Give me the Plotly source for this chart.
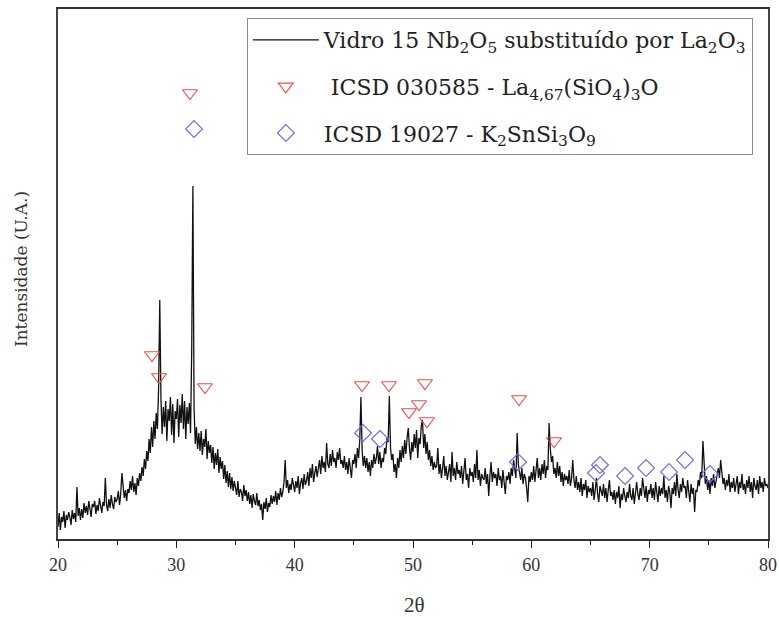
import plotly.graph_objects as go

# ---------------- data ----------------
two_theta_start = 20.0
two_theta_step = 0.1

intensity = [
    12, 26, 9, 22, 17, 28, 11, 24, 19, 27,
    22, 14, 29, 20, 26, 17, 52, 23, 31, 19,
    30, 21, 36, 26, 33, 24, 38, 28, 22, 35,
    32, 38, 25, 34, 28, 41, 31, 26, 37, 33,
    61, 34, 28, 40, 31, 44, 35, 30, 42, 37,
    40, 48, 34, 45, 66, 52, 41, 49, 38, 50,
    46, 58, 49, 63, 47, 56, 44, 61, 53, 66,
    58, 72, 63, 80, 70, 88, 78, 100, 86, 112,
    92, 118, 100, 126, 110, 150, 239, 140, 105, 132,
    112, 138, 98, 130, 118, 142, 104, 135, 96, 128,
    120, 140, 102, 134, 116, 145, 110, 138, 100, 132,
    115, 136, 106, 190, 353, 130, 95, 112, 90, 106,
    88, 108, 84, 100, 92, 110, 80, 98, 86, 94,
    76, 92, 70, 86, 74, 90, 66, 82, 70, 78,
    60, 74, 56, 68, 52, 66, 50, 62, 48, 58,
    52, 44, 58, 42, 50, 47, 38, 54, 43, 49,
    38, 47, 35, 44, 31, 45, 38, 34, 46, 33,
    39, 29, 35, 19, 37, 30, 41, 27, 36, 32,
    44, 35, 43, 37, 48, 34, 46, 39, 51, 42,
    47, 57, 79, 51, 59, 46, 55, 49, 61, 53,
    47, 58, 51, 63, 45, 56, 61, 50, 65, 54,
    58, 67, 53, 71, 61, 75, 57, 66, 73, 62,
    69, 79, 65, 83, 71, 77, 67, 96, 75, 71,
    85, 73, 89, 77, 81, 71, 87, 79, 91, 75,
    79, 71, 83, 69, 77, 65, 81, 73, 61, 79,
    75, 85, 71, 91, 81, 99, 142, 89, 73, 83,
    71, 81, 67, 77, 63, 79, 71, 85, 75, 81,
    93, 75, 87, 71, 81, 77, 91, 85, 101, 97,
    143, 91, 79, 85, 67, 75, 61, 81, 71, 89,
    77, 93, 81, 99, 85, 101, 111, 91, 79, 97,
    87, 105, 91, 109, 81, 101, 95, 113, 119, 91,
    105, 85, 97, 79, 89, 73, 83, 69, 77, 71,
    73, 91, 65, 75, 61, 71, 83, 63, 73, 59,
    67, 75, 57, 87, 63, 71, 59, 77, 65, 69,
    61, 73, 55, 67, 81, 59, 65, 51, 71, 63,
    67, 57, 75, 61, 89, 59, 69, 53, 65, 61,
    59, 71, 55, 65, 43, 63, 77, 57, 67, 61,
    65, 53, 71, 59, 63, 51, 69, 57, 45, 63,
    59, 67, 55, 71, 63, 79, 69, 61, 106, 75,
    67, 59, 71, 55, 65, 61, 51, 37, 63, 57,
    67, 59, 73, 57, 69, 81, 61, 71, 59, 75,
    65, 79, 61, 73, 69, 116, 91, 77, 83, 65,
    71, 61, 77, 63, 73, 57, 67, 53, 65, 59,
    63, 55, 69, 53, 61, 79, 59, 51, 63, 49,
    57, 47, 61, 43, 55, 49, 59, 41, 53, 47,
    51, 43, 57, 39, 49, 61, 45, 37, 53, 47,
    43, 55, 41, 51, 37, 49, 59, 43, 47, 39,
    49, 35, 47, 41, 53, 31, 45, 39, 51, 43,
    37, 47, 41, 55, 43, 39, 51, 35, 47, 57,
    45, 39, 51, 43, 61, 47, 41, 53, 37, 49,
    45, 55, 41, 51, 39, 57, 47, 37, 53, 43,
    51, 45, 63, 41, 49, 37, 53, 47, 31, 51,
    45, 57, 43, 65, 49, 41, 55, 47, 61, 51,
    53, 41, 59, 47, 37, 55, 45, 51, 27, 49,
    47, 59, 53, 67, 61, 98, 71, 55, 63, 49,
    59, 45, 61, 53, 65, 51, 57, 63, 71, 61,
    79, 67, 55, 61, 49, 59, 53, 65, 47, 57,
    51, 61, 47, 55, 63, 45, 57, 51, 65, 49,
    55, 45, 59, 51, 63, 47, 57, 41, 61, 53,
    49, 59, 45, 63, 51, 57, 47, 61, 53, 55,
    51,
]
two_theta = [round(two_theta_start + i * two_theta_step, 2) for i in range(len(intensity))]

la_x = [27.94, 28.54, 31.15, 32.42, 45.69, 47.97, 49.66, 50.51, 51.01, 51.18, 58.96, 61.92]
la_y = [184, 162, 446, 152, 154, 154, 127, 135, 156, 118, 140, 98]

k_x = [31.49, 45.78, 47.21, 58.87, 65.47, 65.80, 67.92, 69.69, 71.64, 72.99, 75.10]
k_y = [410, 106, 100, 77, 66, 74, 63, 71, 67, 79, 65]

x_ticks = [20, 30, 40, 50, 60, 70, 80]

name_glass = "Vidro 15 Nb<sub>2</sub>O<sub>5</sub> substituído por La<sub>2</sub>O<sub>3</sub>"
name_la = " ICSD 030585 - La<sub>4,67</sub>(SiO<sub>4</sub>)<sub>3</sub>O"
name_k = "ICSD 19027 - K<sub>2</sub>SnSi<sub>3</sub>O<sub>9</sub>"

# ---------------- figure ----------------
fig = go.Figure()
fig.add_trace(go.Scatter(
    x=two_theta, y=intensity, mode="lines", name=name_glass,
    line=dict(color="#111111", width=1.3), legendgroup="a",
))
fig.add_trace(go.Scatter(
    x=la_x, y=la_y, mode="markers", name=name_la, legendgroup="b",
    marker=dict(symbol="triangle-down-open", size=13, color="#ee4b4b",
                line=dict(width=1.1)),
))
fig.add_trace(go.Scatter(
    x=k_x, y=k_y, mode="markers", name=name_k, legendgroup="c",
    marker=dict(symbol="diamond-open", size=13, color="#6b6bf0",
                line=dict(width=1.1)),
))

serif = "Liberation Serif"
fig.update_layout(
    width=779, height=617,
    margin=dict(l=58, r=11, t=9, b=78),
    paper_bgcolor="white", plot_bgcolor="white",
    showlegend=True,
    legend=dict(
        x=0.266, y=0.983, xanchor="left", yanchor="top",
        bordercolor="#8a8a8a", borderwidth=1, bgcolor="white",
        font=dict(family="DejaVu Serif", size=22, color="#222"),
        tracegroupgap=15, itemwidth=66,
    ),
    xaxis=dict(
        range=[20, 80], tickvals=x_ticks, ticks="outside", ticklen=7,
        tickwidth=1.2, tickcolor="#222", ticklabelstandoff=1, automargin=False,
        minor=dict(ticks="outside", dtick=5, ticklen=4, tickcolor="#222", tickwidth=1.2),
        showline=True, linecolor="#333", linewidth=1.8, mirror=True,
        showgrid=False, zeroline=False,
        tickfont=dict(family=serif, size=18, color="#333"),
    ),
    yaxis=dict(
        range=[0, 530], showticklabels=False, ticks="", automargin=False,
        showline=True, linecolor="#444", linewidth=1.5, mirror=True,
        showgrid=False, zeroline=False,
    ),
    annotations=[
        dict(text="2θ", xref="paper", yref="paper", x=0.502, y=-0.125,
             xanchor="center", yanchor="middle", showarrow=False,
             font=dict(family=serif, size=21, color="#333")),
        dict(text="Intensidade (U.A.)", xref="paper", yref="paper", x=-0.053, y=0.51,
             xanchor="center", yanchor="middle", textangle=-90, showarrow=False,
             font=dict(family="DejaVu Serif", size=17, color="#333")),
    ],
)

fig.write_html("out.html")
